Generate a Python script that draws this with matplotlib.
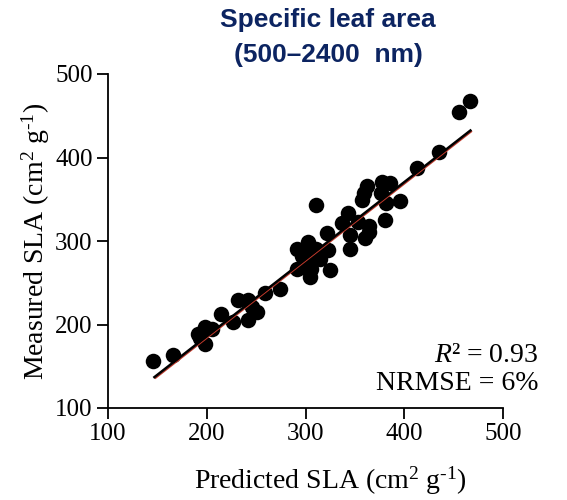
import numpy as np
import matplotlib.pyplot as plt
from matplotlib import transforms

plt.rcParams['font.family'] = ['Liberation Serif', 'DejaVu Serif']
plt.rcParams['mathtext.fontset'] = 'custom'
plt.rcParams['mathtext.rm'] = 'Liberation Serif'
plt.rcParams['mathtext.it'] = 'Liberation Serif:italic'

# predicted vs measured SLA (cm2 g-1)
predicted = [146, 166, 191, 193, 198, 198, 205, 214, 227, 232, 242, 242, 246, 251, 259, 274,
             291, 303, 311, 323, 298, 315, 306, 305, 325, 291, 297, 308, 311, 322, 296, 300,
             337, 343, 353, 345, 345, 364, 364, 360, 362, 359, 357, 377, 386, 376, 382,
             396, 380, 413, 435, 455, 467]
measured = [156, 164, 189, 184, 177, 197, 195, 213, 203, 229, 229, 205, 221, 215, 238, 243,
            291, 299, 291, 289, 279, 279, 267, 257, 265, 267, 269, 277, 343, 310, 282, 288,
            321, 334, 323, 307, 291, 318, 311, 303, 366, 357, 349, 371, 369, 357, 346,
            348, 325, 388, 406, 455, 468]

# fitted line
fit_slope = 0.923
fit_intercept = 1.3
fit_range = [147, 467]

title_color = '#0c2461'
unit = '(cm$^2$ g$^{\\text{-}1}$)'

fig = plt.figure(figsize=(5.67, 5.0), dpi=100)
ax = fig.add_axes([108/567, 1 - 408/500, 395/567, 334/500])

ax.scatter(predicted, measured, s=125, color='black', zorder=3, linewidths=0)

fx = np.array(fit_range)
fy = fit_intercept + fit_slope * fx
shadow = transforms.offset_copy(ax.transData, fig=fig, x=0.8, y=-0.8, units='points')
ax.plot(fx, fy, color='#c0392b', lw=1.0, transform=shadow, zorder=4)
ax.plot(fx, fy, color='black', lw=1.8, zorder=5)

ax.set_xlim(100, 500)
ax.set_ylim(100, 500)
ax.set_xticks([100, 200, 300, 400, 500])
ax.set_yticks([100, 200, 300, 400, 500])
ax.spines['top'].set_visible(False)
ax.spines['right'].set_visible(False)
for s in ['left', 'bottom']:
    ax.spines[s].set_linewidth(1.3)
ax.tick_params(direction='out', length=8, width=1.3, labelsize=18, pad=3)

ax.set_xlabel('Predicted SLA ' + unit, fontsize=20)
ax.xaxis.set_label_coords(0.562, -0.17)
ax.set_ylabel('Measured SLA ' + unit, fontsize=20, labelpad=2)

ax.text(1.09, 0.138, '$R$² = 0.93', transform=ax.transAxes, ha='right',
        va='baseline', fontsize=20)
ax.text(1.09, 0.054, 'NRMSE = 6%', transform=ax.transAxes, ha='right',
        va='baseline', fontsize=20)

fig.text(328/567, 1 - 20/500, 'Specific leaf area', ha='center', va='center',
         fontsize=19, fontweight='bold', color=title_color, family='Liberation Sans')
fig.text(328/567, 1 - 55/500, '(500–2400  nm)', ha='center', va='center',
         fontsize=19, fontweight='bold', color=title_color, family='Liberation Sans')

fig.savefig('out.png', dpi=100)
